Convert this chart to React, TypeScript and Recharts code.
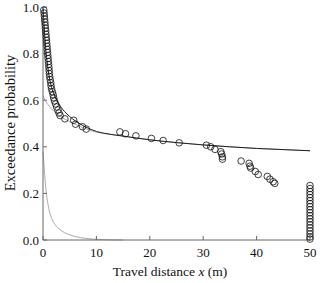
import React from "react";
import {
  ComposedChart,
  Scatter,
  Line,
  XAxis,
  YAxis,
} from "recharts";

// observed exceedance probabilities (open circles)
const obsX = [
  0.15, 0.2, 0.25, 0.3, 0.35, 0.4, 0.45, 0.5, 0.55, 0.6, 0.65, 0.7, 0.75, 0.8,
  0.85, 0.9, 0.95, 1.0, 1.05, 1.1, 1.15, 1.2, 1.25, 1.35, 1.45, 1.5, 1.6, 1.75,
  1.9, 2.0, 2.15, 2.35, 2.55, 2.8, 3.0, 3.2, 4.1, 5.75, 6.1, 7.4, 8.1, 14.4,
  15.45, 17.4, 20.3, 22.5, 25.5, 30.6, 31.4, 32.2, 33.3, 33.45, 33.6, 33.6,
  37.1, 38.6, 38.75, 38.9, 39.75, 40.3, 42.0, 42.5, 43.1, 43.4,
];
const obsP = [
  0.987, 0.974, 0.961, 0.948, 0.935, 0.922, 0.909, 0.896, 0.883, 0.87, 0.857,
  0.844, 0.831, 0.818, 0.805, 0.792, 0.779, 0.766, 0.753, 0.74, 0.727, 0.714,
  0.701, 0.688, 0.675, 0.662, 0.649, 0.636, 0.623, 0.61, 0.597, 0.584, 0.571,
  0.558, 0.545, 0.534, 0.52, 0.514, 0.497, 0.486, 0.476, 0.464, 0.456, 0.447,
  0.436, 0.427, 0.417, 0.407, 0.4, 0.389, 0.379, 0.369, 0.357, 0.347, 0.339,
  0.329, 0.317, 0.309, 0.294, 0.281, 0.273, 0.261, 0.25, 0.243,
];

// particles that reached the end of the reach (stacked at x = 50)
const endX = 50;
const endP = [
  0.234, 0.221, 0.208, 0.195, 0.182, 0.169, 0.156, 0.143, 0.13, 0.117, 0.104,
  0.091, 0.078, 0.065, 0.052, 0.039, 0.026, 0.013, 0.004,
];

// fitted curves
const fitX = [0, 0.25, 0.5, 0.75, 1, 1.5, 2, 3, 4, 5, 6, 8, 10, 12, 15, 20, 25, 30, 35, 40, 45, 50];
const totalP = [
  1.0, 0.905, 0.825, 0.77, 0.725, 0.665, 0.628, 0.583, 0.552, 0.53, 0.512,
  0.485, 0.466, 0.456, 0.446, 0.43, 0.418, 0.408, 0.4, 0.393, 0.388, 0.383,
];
const slowP = [
  0.62, 0.605, 0.595, 0.587, 0.58, 0.565, 0.553, 0.535, 0.52, 0.508, 0.497,
  0.478, 0.463, 0.455, 0.446, 0.43, 0.418, 0.408, 0.4, 0.393, 0.388, 0.383,
];
const fastX = [0, 0.25, 0.5, 0.75, 1, 1.5, 2, 3, 4, 5, 6, 8, 10, 12, 15];
const fastP = [0.38, 0.3, 0.23, 0.18, 0.145, 0.1, 0.075, 0.048, 0.032, 0.022, 0.015, 0.007, 0.003, 0.001, 0];

const xTicks = [0, 10, 20, 30, 40, 50];
const yTicks = [0, 0.2, 0.4, 0.6, 0.8, 1.0];

const observed = obsX.map((x, i) => ({ x, y: obsP[i] }));
const atEnd = endP.map((y) => ({ x: endX, y }));
const total = fitX.map((x, i) => ({ x, y: totalP[i] }));
const slow = fitX.map((x, i) => ({ x, y: slowP[i] }));
const fast = fastX.map((x, i) => ({ x, y: fastP[i] }));

const FONT = "'Liberation Serif', 'Times New Roman', serif";
const AXIS = "#666";

const OpenCircle = (props: any) => (
  <circle cx={props.cx} cy={props.cy} r={3.3} fill="none" stroke="#111" strokeWidth={0.8} />
);

export default function App() {
  const tickStyle = { fontFamily: FONT, fontSize: 13, fill: "#111" };
  return (
    <div style={{ position: "absolute", left: 0, top: 0, width: 320, height: 283, background: "#fff" }}>
      <ComposedChart width={320} height={283} margin={{ top: 7, right: 10, bottom: 0, left: 0 }}>
        <XAxis
          xAxisId="b"
          type="number"
          dataKey="x"
          domain={[0, 50]}
          ticks={xTicks}
          stroke={AXIS}
          tickSize={-4}
          tickMargin={12}
          height={43}
          tick={tickStyle}
          interval={0}
        />
        <XAxis
          xAxisId="t"
          orientation="top"
          type="number"
          dataKey="x"
          domain={[0, 50]}
          ticks={[10, 20, 30, 40]}
          stroke={AXIS}
          tickSize={-4}
          height={0}
          tick={false}
        />
        <YAxis
          yAxisId="l"
          type="number"
          domain={[0, 1]}
          ticks={yTicks}
          stroke={AXIS}
          tickSize={-4}
          tickMargin={8}
          width={43}
          tick={tickStyle}
          tickFormatter={(v: number) => v.toFixed(1)}
          interval={0}
        />
        <YAxis
          yAxisId="r"
          orientation="right"
          type="number"
          domain={[0, 1]}
          ticks={[0.2, 0.4, 0.6, 0.8]}
          stroke={AXIS}
          tickSize={-4}
          width={0}
          tick={false}
        />
        <Line xAxisId="b" yAxisId="l" data={fast} dataKey="y" type="monotone" stroke="#aaa" strokeWidth={1} dot={false} isAnimationActive={false} />
        <Line xAxisId="b" yAxisId="l" data={slow} dataKey="y" type="monotone" stroke="#aaa" strokeWidth={1} dot={false} isAnimationActive={false} />
        <Line xAxisId="b" yAxisId="l" data={total} dataKey="y" type="monotone" stroke="#222" strokeWidth={1} dot={false} isAnimationActive={false} />
        <Scatter xAxisId="b" yAxisId="l" data={observed} dataKey="y" shape={OpenCircle} isAnimationActive={false} />
        <Scatter xAxisId="b" yAxisId="l" data={atEnd} dataKey="y" shape={OpenCircle} isAnimationActive={false} />
        <text x={170} y={276} textAnchor="middle" fontFamily={FONT} fontSize={13.5} fill="#111">
          Travel distance <tspan fontStyle="italic">x</tspan> (m)
        </text>
        <text
          x={0}
          y={0}
          transform="translate(15,123) rotate(-90)"
          textAnchor="middle"
          fontFamily={FONT}
          fontSize={14.5}
          fill="#111"
        >
          Exceedance probability
        </text>
      </ComposedChart>
    </div>
  );
}
